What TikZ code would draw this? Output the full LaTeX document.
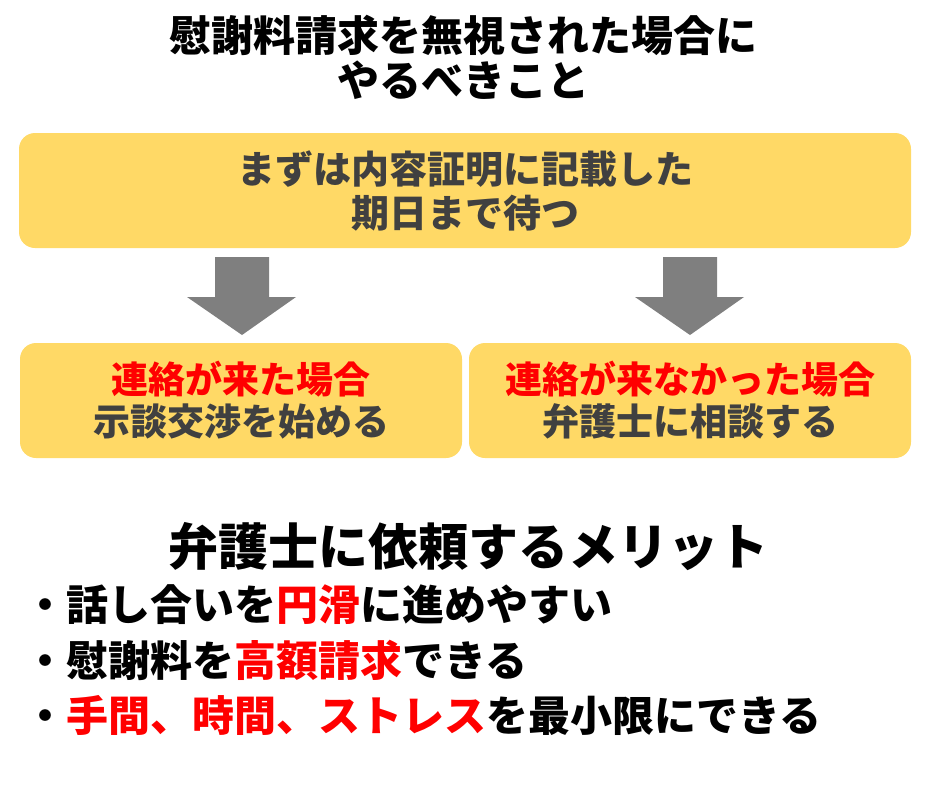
\documentclass[tikz,border=0pt]{standalone}
\usepackage{fontspec}
\setmainfont{Noto Sans CJK JP}
\definecolor{boxfill}{HTML}{FFD966}
\definecolor{arrowgray}{HTML}{7F7F7F}
\definecolor{txtgray}{HTML}{404040}
\definecolor{hl}{HTML}{FF0000}
\tikzset{
  ybox/.style={fill=boxfill, rounded corners=16pt, inner sep=0pt},
  blockarrow/.style={fill=arrowgray, draw=none},
  boxtext/.style={text=txtgray, font=\fontsize{38}{44}\selectfont\bfseries, align=center},
  titletext/.style={font=\fontsize{42}{45}\selectfont\bfseries, align=center},
  merittext/.style={font=\fontsize{50}{55}\selectfont\bfseries},
  bullettext/.style={font=\fontsize{42}{44}\selectfont\bfseries, anchor=west, inner sep=0pt},
}
\begin{document}
\begin{tikzpicture}[x=1pt,y=-1pt]
\useasboundingbox (0,0) rectangle (925,801);
% title
\node[titletext] (title) at (463,57) {慰謝料請求を無視された場合に\\やるべきこと};
% boxes
\path[ybox] (19,133) rectangle (911,248);
\node (top) at (465,190.5) [minimum width=892pt, minimum height=115pt] {};
\node[boxtext] (toptext) at (top.center) {まずは内容証明に記載した\\期日まで待つ};
\path[ybox] (20,343) rectangle (462,458);
\node (left) at (241,400.5) [minimum width=442pt, minimum height=115pt] {};
\node[boxtext, font=\fontsize{37}{42}\selectfont\bfseries] (lefttext) at (left.center) {\textcolor{hl}{連絡が来た場合}\\示談交渉を始める};
\path[ybox] (469,343) rectangle (911,458);
\node (right) at (690,400.5) [minimum width=442pt, minimum height=115pt] {};
\node[boxtext, font=\fontsize{37}{42}\selectfont\bfseries] (righttext) at (right.center) {\textcolor{hl}{連絡が来なかった場合}\\弁護士に相談する};
% arrows
\fill[blockarrow] (215,257) -- (269,257) -- (269,297) -- (296,297) -- (242,335) -- (187,297) -- (215,297) -- cycle;
\fill[blockarrow] (663,257) -- (717,257) -- (717,297) -- (744,297) -- (690,335) -- (635,297) -- (663,297) -- cycle;
% merits
\node[merittext] (merit) at (468,547) {弁護士に依頼するメリット};
\node[bullettext] (b1) at (24,605) {・話し合いを\textcolor{hl}{円滑}に進めやすい};
\node[bullettext] (b2) at (24,660) {・慰謝料を\textcolor{hl}{高額請求}できる};
\node[bullettext] (b3) at (24,715) {・\textcolor{hl}{手間、時間、ストレス}を最小限にできる};
\end{tikzpicture}
\end{document}
